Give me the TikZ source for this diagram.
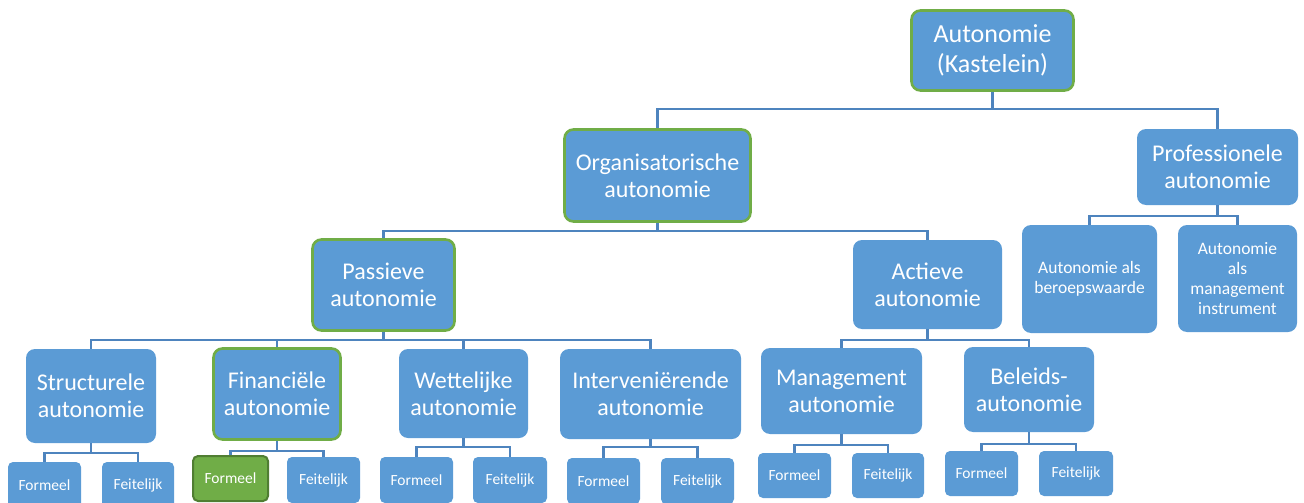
\documentclass[tikz,border=0pt]{standalone}
\usepackage{fontspec}
\setmainfont{Carlito}
\definecolor{boxblue}{HTML}{5B9BD5}
\definecolor{linkblue}{HTML}{4E84BE}
\definecolor{accgreen}{HTML}{70AD47}
\definecolor{darkgreen}{HTML}{507E32}
\tikzset{
  box/.style={fill=boxblue, text=white, rounded corners=9pt, inner sep=0pt,
    align=center, font=\fontsize{24}{27}\selectfont},
  topbox/.style={box, font=\fontsize{26}{30}\selectfont},
  hl/.style={draw=accgreen, line width=2.6pt},
  midbox/.style={box, font=\fontsize{17.5}{20}\selectfont},
  leafbox/.style={box, rounded corners=5pt, font=\fontsize{15.5}{18}\selectfont},
  leafhl/.style={fill=accgreen, draw=darkgreen, line width=2pt},
  conn/.style={draw=linkblue, line width=2.4pt},
}
\begin{document}
\begin{tikzpicture}[x=1pt,y=-1pt]
\useasboundingbox (0,0) rectangle (1304,503);
\clip (0,0) rectangle (1304,503);

% upper levels
\node[topbox,hl,minimum width=162pt,minimum height=80pt] (top) at (992.5,50.5) {Autonomie\\(Kastelein)};
\node[box,hl,minimum width=186pt,minimum height=92pt] (org) at (657.5,175.5) {Organisatorische\\autonomie};
\node[box,minimum width=161pt,minimum height=76pt] (prof) at (1217.5,167) {Professionele\\autonomie};
\node[box,hl,minimum width=142pt,minimum height=91pt] (pas) at (383.5,285) {Passieve\\autonomie};
\node[box,minimum width=149pt,minimum height=89pt] (act) at (927.5,284.5) {Actieve\\autonomie};
\node[midbox,minimum width=135pt,minimum height=108pt] (ber) at (1089.5,279) {Autonomie als\\beroepswaarde};
\node[midbox,minimum width=119pt,minimum height=107pt] (ins) at (1237.5,278.5) {Autonomie\\als\\management\\instrument};

% kinds of autonomy
\node[box,minimum width=130pt,minimum height=94pt] (str) at (91,396) {Structurele\\autonomie};
\node[box,hl,minimum width=127pt,minimum height=91pt] (fin) at (277,394) {Financiële\\autonomie};
\node[box,minimum width=129pt,minimum height=89pt] (wet) at (463.5,393.5) {Wettelijke\\autonomie};
\node[box,minimum width=181pt,minimum height=90pt] (int) at (650.5,394) {Interveniërende\\autonomie};
\node[box,minimum width=161pt,minimum height=86pt] (man) at (841.5,391) {Management\\autonomie};
\node[box,minimum width=130pt,minimum height=85pt] (bel) at (1029,389.5) {Beleids-\\autonomie};

% formal / factual leaves
\node[leafbox,minimum width=73pt,minimum height=46pt] (strf) at (44.5,485) {Formeel};
\node[leafbox,minimum width=72pt,minimum height=46pt] (strt) at (138,485) {Feitelijk};
\node[leafbox,leafhl,minimum width=75pt,minimum height=45pt] (finf) at (230.5,478.5) {Formeel};
\node[leafbox,minimum width=73pt,minimum height=46pt] (fint) at (323.5,480) {Feitelijk};
\node[leafbox,minimum width=73pt,minimum height=46pt] (wetf) at (416.5,480) {Formeel};
\node[leafbox,minimum width=74pt,minimum height=46pt] (wett) at (510,480) {Feitelijk};
\node[leafbox,minimum width=73pt,minimum height=46pt] (intf) at (603.5,481) {Formeel};
\node[leafbox,minimum width=73pt,minimum height=46pt] (intt) at (697.5,481) {Feitelijk};
\node[leafbox,minimum width=73pt,minimum height=45pt] (manf) at (794.5,475.5) {Formeel};
\node[leafbox,minimum width=72pt,minimum height=45pt] (mant) at (888,475.5) {Feitelijk};
\node[leafbox,minimum width=73pt,minimum height=45pt] (belf) at (981.5,473.5) {Formeel};
\node[leafbox,minimum width=74pt,minimum height=45pt] (belt) at (1076,473.5) {Feitelijk};

% connectors along shared horizontal buses
\foreach \p/\c/\y in {top/org/109, top/prof/109,
    org/pas/231, org/act/231, prof/ber/216, prof/ins/216,
    pas/str/340, pas/fin/340, pas/wet/340, pas/int/340,
    act/man/340, act/bel/340,
    str/strf/453, str/strt/453, fin/finf/451, fin/fint/451,
    wet/wetf/447, wet/wett/447, int/intf/447, int/intt/447,
    man/manf/445, man/mant/445, bel/belf/444, bel/belt/444}
  \draw[conn] (\p.south) -- (\p.south |- 0,\y) -| (\c.north);
\end{tikzpicture}
\end{document}
